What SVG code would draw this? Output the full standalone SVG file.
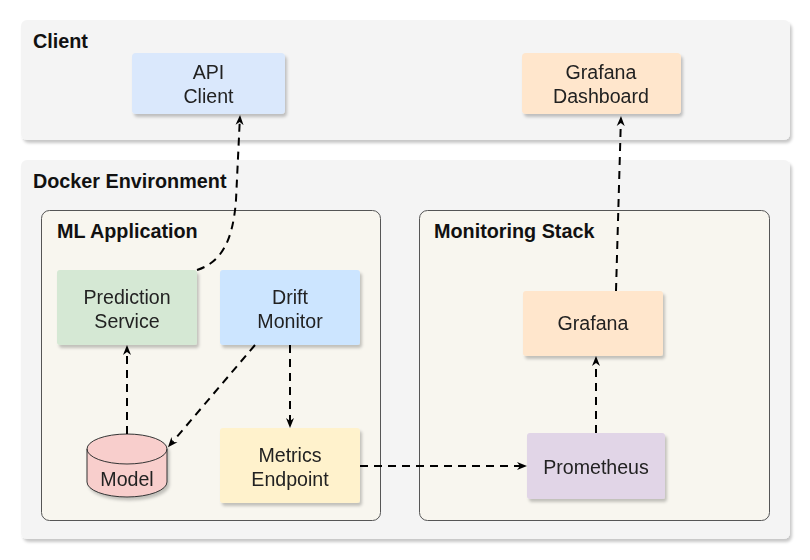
<svg xmlns="http://www.w3.org/2000/svg" width="810" height="560" viewBox="0 0 810 560">
<defs>
<filter id="sh" x="-10%" y="-10%" width="130%" height="140%">
<feDropShadow dx="2" dy="3" stdDeviation="1.5" flood-color="#000" flood-opacity="0.22"/>
</filter>
<marker id="arr" viewBox="0 0 10 10" refX="3" refY="5" markerWidth="10" markerHeight="10" markerUnits="userSpaceOnUse" orient="auto">
<path d="M0,1 L10,5 L0,9 L3,5 Z" fill="#000"/>
</marker>
</defs>
<style>
.outer{fill:#f4f4f4;filter:url(#sh)}
.inner{fill:#f8f6ef;stroke:#555;stroke-width:1}
.title{font-family:"Liberation Sans",Arial,sans-serif;font-weight:bold;font-size:19.8px;fill:#111}
.lbl{font-family:"Liberation Sans",Arial,sans-serif;font-size:19.6px;fill:#222;text-anchor:middle}
.node{filter:url(#sh)}
.edge{fill:none;stroke:#000;stroke-width:2;stroke-dasharray:8 6;marker-end:url(#arr)}
</style>
<g id="client-group">
<rect class="outer" x="21" y="20" width="769" height="120" rx="6"/>
<text class="title" x="33" y="48">Client</text>
</g>
<g id="docker-group">
<rect class="outer" x="21" y="160" width="769" height="379" rx="6"/>
<text class="title" x="33" y="188">Docker Environment</text>
</g>
<g id="ml-app-group">
<rect class="inner" x="41.5" y="210.5" width="339" height="310" rx="8"/>
<text class="title" x="57" y="238">ML Application</text>
</g>
<g id="monitoring-group">
<rect class="inner" x="419.5" y="210.5" width="350" height="310" rx="8"/>
<text class="title" x="434" y="238">Monitoring Stack</text>
</g>
<g id="api-client" class="node">
<rect x="132" y="53" width="153" height="61" rx="4" fill="#dae8fc"/>
<text class="lbl" x="208.5" y="79">API</text>
<text class="lbl" x="208.5" y="103">Client</text>
</g>
<g id="grafana-dashboard" class="node">
<rect x="522" y="53" width="159" height="61" rx="4" fill="#ffe6cc"/>
<text class="lbl" x="601" y="79">Grafana</text>
<text class="lbl" x="601" y="103">Dashboard</text>
</g>
<g id="prediction-service" class="node">
<rect x="57" y="270" width="140" height="75" rx="3" fill="#d5e8d4"/>
<text class="lbl" x="127" y="304">Prediction</text>
<text class="lbl" x="127" y="328">Service</text>
</g>
<g id="drift-monitor" class="node">
<rect x="220" y="270" width="140" height="75" rx="3" fill="#cce5ff"/>
<text class="lbl" x="290" y="304">Drift</text>
<text class="lbl" x="290" y="328">Monitor</text>
</g>
<g id="model" class="node">
<path d="M87,449 A40,15 0 0 1 167,449 L167,482 A40,15 0 0 1 87,482 Z" fill="#f8cecc" stroke="#333" stroke-width="1"/>
<path d="M87,449 A40,15 0 0 0 167,449" fill="none" stroke="#333" stroke-width="1"/>
<text class="lbl" x="127" y="486">Model</text>
</g>
<g id="metrics-endpoint" class="node">
<rect x="220" y="428" width="140" height="75" rx="3" fill="#fff2cc"/>
<text class="lbl" x="290" y="462">Metrics</text>
<text class="lbl" x="290" y="486">Endpoint</text>
</g>
<g id="grafana" class="node">
<rect x="523" y="291" width="140" height="65" rx="3" fill="#ffe6cc"/>
<text class="lbl" x="593" y="330">Grafana</text>
</g>
<g id="prometheus" class="node">
<rect x="527" y="433" width="138" height="66" rx="3" fill="#e1d5e7"/>
<text class="lbl" x="596" y="474">Prometheus</text>
</g>
<g id="connectors">
<path class="edge" d="M197,270 C222,262 233,240 236,200 L239.7,122"/>
<path class="edge" d="M616,291 L620.8,123"/>
<path class="edge" d="M127,434 L127,352"/>
<path class="edge" d="M255,345 L172.5,442"/>
<path class="edge" d="M290,345 L290,421"/>
<path class="edge" d="M360,466 L520,466"/>
<path class="edge" d="M596,433 L596,363"/>
</g>
</svg>
